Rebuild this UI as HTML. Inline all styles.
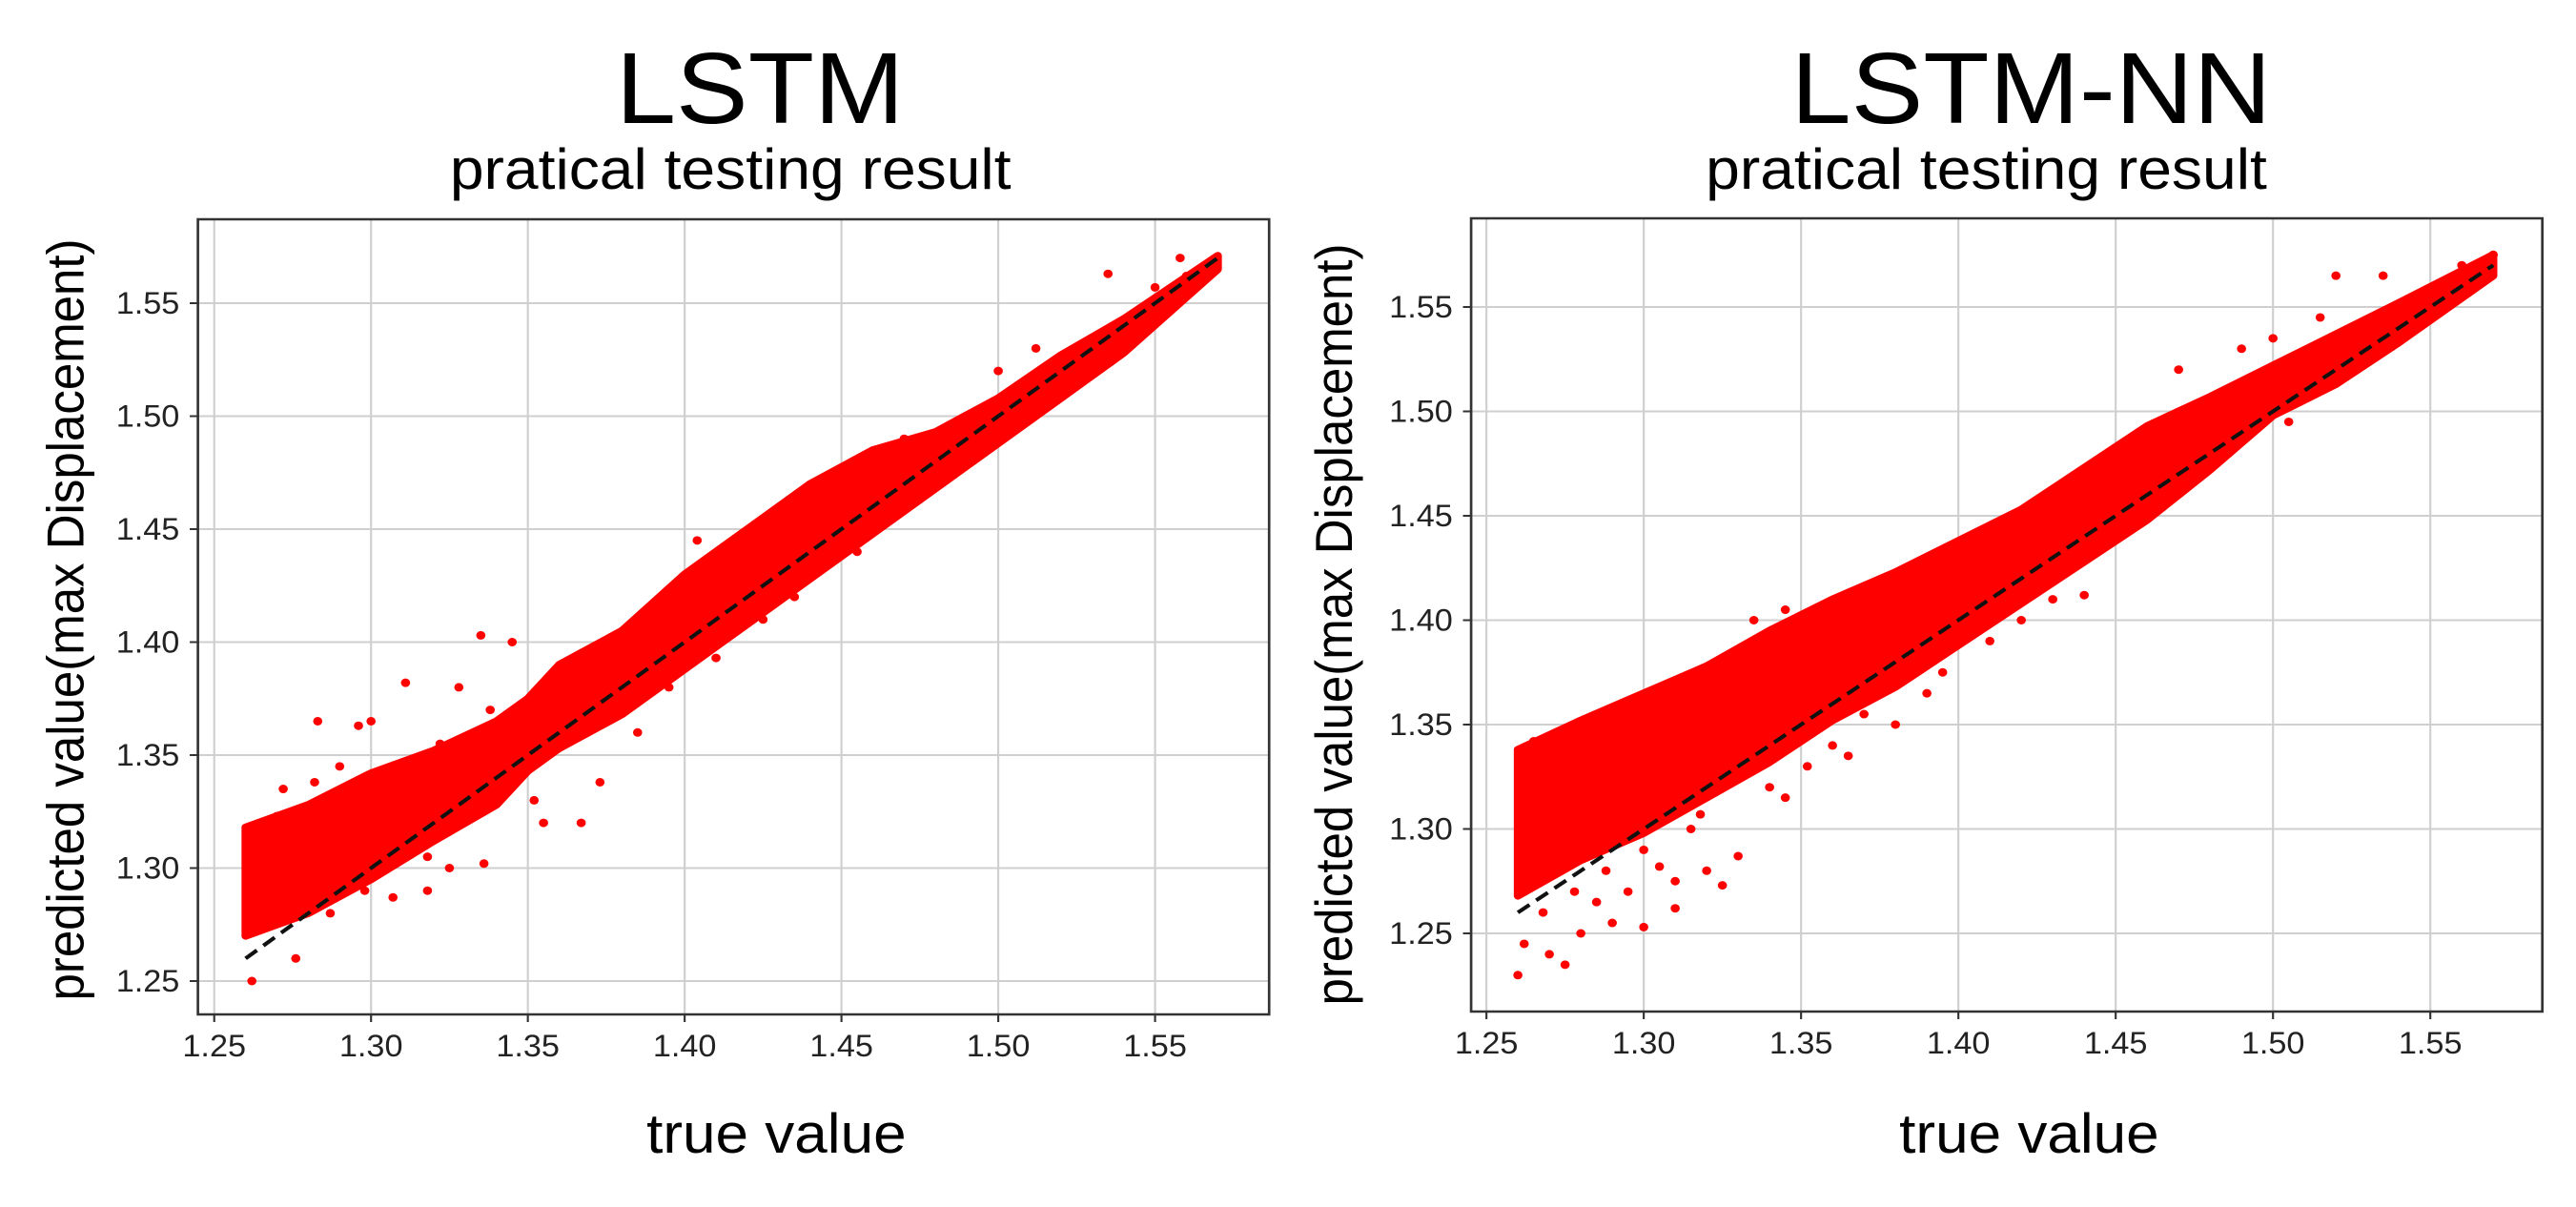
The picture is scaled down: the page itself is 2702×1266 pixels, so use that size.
<!DOCTYPE html>
<html><head><meta charset="utf-8"><style>
html,body{margin:0;padding:0;background:#fff;}
svg{display:block;font-family:"Liberation Sans",sans-serif;}
</style></head><body>
<svg id="fig" width="2702" height="1266" viewBox="0 0 2525 1266" preserveAspectRatio="none" xmlns="http://www.w3.org/2000/svg">
<rect width="2525" height="1266" fill="#fff"/>
</svg>
<script>
const ticks = [1.25,1.30,1.35,1.40,1.45,1.50,1.55];
const tickLabels = ["1.25","1.30","1.35","1.40","1.45","1.50","1.55"];
// LSTM band (true value bins, predicted low/high)
const lstmBinsX = [1.26,1.28,1.30,1.32,1.34,1.35,1.36,1.38,1.40,1.42,1.44,1.46,1.48,1.50,1.52,1.54,1.57];
const lstmLow  = [1.27,1.28,1.295,1.312,1.328,1.343,1.353,1.368,1.388,1.408,1.428,1.448,1.468,1.488,1.508,1.528,1.565];
const lstmHigh = [1.318,1.328,1.342,1.352,1.365,1.375,1.39,1.405,1.43,1.45,1.47,1.485,1.493,1.508,1.527,1.543,1.571];
const lstmOutX = [1.283,1.296,1.30,1.311,1.328,1.335,1.345,1.305,1.29,1.355,1.367,1.373,1.41,1.404,1.336,1.325,1.307,1.262,1.276,1.535,1.558,1.55,1.56,1.512,1.265,1.27,1.287,1.298,1.318,1.322,1.338,1.352,1.385,1.395,1.425,1.435,1.455,1.47,1.49,1.5,1.318,1.282,1.272];
const lstmOutY = [1.365,1.363,1.365,1.382,1.38,1.403,1.40,1.338,1.345,1.32,1.32,1.338,1.393,1.445,1.302,1.30,1.287,1.25,1.26,1.563,1.57,1.557,1.562,1.53,1.318,1.323,1.28,1.29,1.305,1.355,1.37,1.33,1.36,1.38,1.41,1.42,1.44,1.49,1.50,1.52,1.29,1.338,1.335];
// LSTM-NN band
const nnBinsX = [1.26,1.28,1.30,1.32,1.34,1.36,1.38,1.40,1.42,1.44,1.46,1.48,1.50,1.52,1.54,1.57];
const nnLow  = [1.268,1.285,1.298,1.315,1.332,1.352,1.368,1.388,1.408,1.428,1.448,1.472,1.498,1.513,1.533,1.565];
const nnHigh = [1.338,1.352,1.365,1.378,1.395,1.41,1.423,1.438,1.453,1.473,1.493,1.507,1.522,1.537,1.552,1.575];
const nnOutX = [1.26,1.262,1.27,1.275,1.28,1.29,1.30,1.31,1.31,1.32,1.325,1.33,1.295,1.285,1.34,1.345,1.365,1.38,1.37,1.39,1.41,1.43,1.44,1.345,1.335,1.47,1.52,1.535,1.56,1.57,1.49,1.50,1.265,1.275,1.268,1.278,1.288,1.3,1.305,1.315,1.318,1.352,1.36,1.395,1.42,1.45,1.475,1.505,1.515,1.54];
const nnOutY = [1.23,1.245,1.24,1.235,1.25,1.255,1.253,1.262,1.275,1.28,1.273,1.287,1.27,1.265,1.32,1.315,1.335,1.35,1.355,1.365,1.39,1.41,1.412,1.405,1.40,1.52,1.565,1.565,1.57,1.575,1.53,1.535,1.342,1.34,1.26,1.27,1.28,1.29,1.282,1.3,1.307,1.33,1.34,1.375,1.4,1.44,1.47,1.495,1.545,1.548];

const NS="http://www.w3.org/2000/svg";
const svg=document.getElementById('fig');
function mk(tag,attrs,parent){const e=document.createElementNS(NS,tag);for(const k in attrs)e.setAttribute(k,attrs[k]);(parent||svg).appendChild(e);return e;}

function panel(cfg){
  const g=mk('g',{});
  
  
  const X=v=>cfg.x0+(v-1.25)/0.05*cfg.xs;
  const Y=v=>cfg.y0+(1.55-v)/0.05*cfg.ys;
  ticks.forEach((t,i)=>{
    const gx=mk('line',{x1:X(t),x2:X(t),y1:cfg.top,y2:cfg.bot,stroke:'#cfcfcf','stroke-width':2},g);
    
    
    const gy=mk('line',{x1:cfg.left,x2:cfg.right,y1:Y(t),y2:Y(t),stroke:'#cfcfcf','stroke-width':2},g);
    
    
    const tx=mk('text',{x:X(t),y:cfg.bot+44,'font-size':32,'text-anchor':'middle',fill:'#222'},g);
    tx.textContent=tickLabels[i];
    
    
    mk('line',{x1:X(t),x2:X(t),y1:cfg.bot,y2:cfg.bot+8,stroke:'#333','stroke-width':2},g);
    const ty=mk('text',{x:cfg.left-18,y:Y(t)+11,'font-size':32,'text-anchor':'end',fill:'#222'},g);
    ty.textContent=tickLabels[i];
    
    
    mk('line',{x1:cfg.left-8,x2:cfg.left,y1:Y(t),y2:Y(t),stroke:'#333','stroke-width':2},g);
  });
  let pts=[];
  cfg.bx.forEach((x,i)=>pts.push(X(x)+','+Y(cfg.hi[i])));
  for(let i=cfg.bx.length-1;i>=0;i--)pts.push(X(cfg.bx[i])+','+Y(cfg.lo[i]));
  const band=mk('polygon',{points:pts.join(' '),fill:'#ff0000',stroke:'#ff0000','stroke-width':8,'stroke-linejoin':'round'},g);
  
  
  cfg.ox.forEach((x,i)=>{
    const c=mk('circle',{cx:X(x),cy:Y(cfg.oy[i]),r:4.5,fill:'#ff0000'},g);
    
    
  });
  const d=mk('line',{x1:X(1.26),y1:Y(1.26),x2:X(1.57),y2:Y(1.57),stroke:'#111','stroke-width':4,'stroke-dasharray':'14 8'},g);
  
  
  const fr=mk('rect',{x:cfg.left,y:cfg.top,width:cfg.right-cfg.left,height:cfg.bot-cfg.top,fill:'none',stroke:'#333','stroke-width':2.5},g);
  
  
}
panel({name:'lstm-panel',left:194,right:1244,top:230,bot:1064,x0:210,xs:153.7,y0:318,ys:118.5,bx:lstmBinsX,lo:lstmLow,hi:lstmHigh,ox:lstmOutX,oy:lstmOutY});
panel({name:'lstm-nn-panel',left:1442,right:2492,top:229,bot:1061,x0:1457,xs:154.2,y0:322,ys:109.5,bx:nnBinsX,lo:nnLow,hi:nnHigh,ox:nnOutX,oy:nnOutY});
</script>
<svg style="position:absolute;left:0;top:0" width="2702" height="1266" viewBox="0 0 2525 1266" preserveAspectRatio="none" xmlns="http://www.w3.org/2000/svg">
<text x="745" y="129" font-size="106" text-anchor="middle" fill="#000">LSTM</text>
<text x="716" y="198" font-size="60" text-anchor="middle" fill="#000">pratical testing result</text>
<text x="761" y="1209" font-size="58" text-anchor="middle" fill="#000">true value</text>
<text transform="translate(82,650) rotate(-90)" font-size="51" text-anchor="middle" fill="#000">predicted value(max Displacement)</text>
<text x="1991" y="129" font-size="106" text-anchor="middle" fill="#000">LSTM-NN</text>
<text x="1947" y="198" font-size="60" text-anchor="middle" fill="#000">pratical testing result</text>
<text x="1989" y="1209" font-size="58" text-anchor="middle" fill="#000">true value</text>
<text transform="translate(1325,655) rotate(-90)" font-size="51" text-anchor="middle" fill="#000">predicted value(max Displacement)</text>
</svg>
</body></html>
